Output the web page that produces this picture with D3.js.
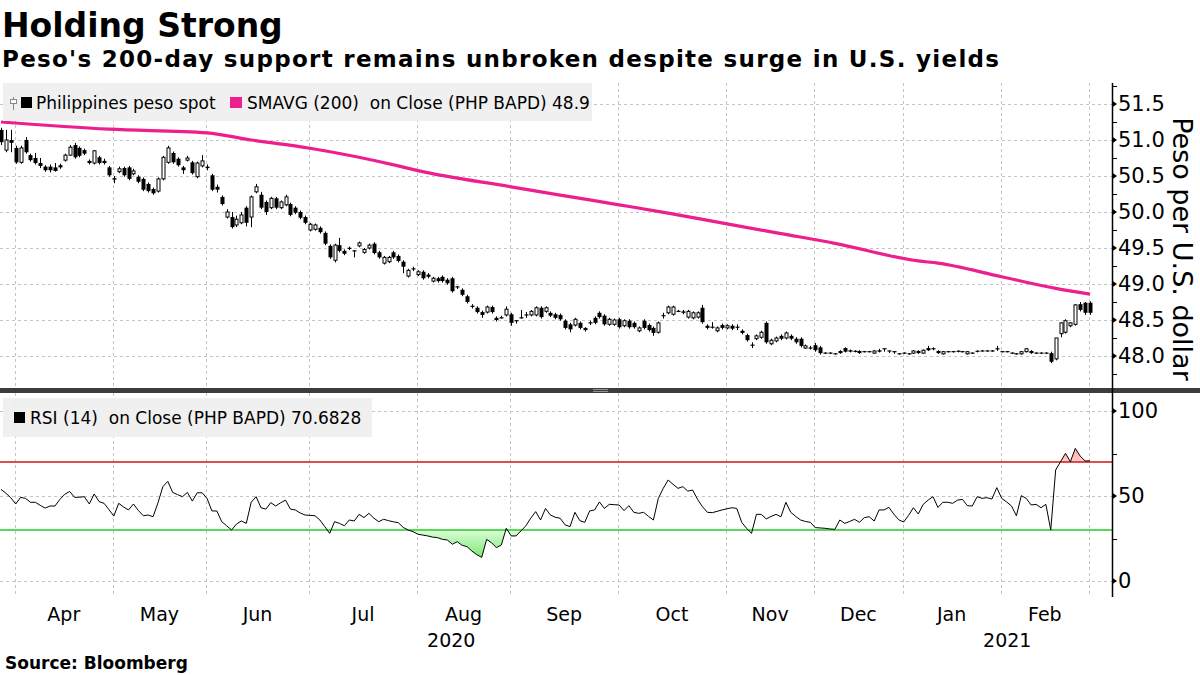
<!DOCTYPE html>
<html>
<head>
<meta charset="utf-8">
<script src="https://cdn.jsdelivr.net/npm/d3@7/dist/d3.min.js"></script>
<style>
  html, body { margin: 0; padding: 0; background: #fff; }
  svg { display: block; font-family: "DejaVu Sans", sans-serif; }
</style>
</head>
<body>
<svg id="chart" width="1200" height="675"></svg>
<script>
// ---------------- DATA ----------------
const openP = [51.14,50.86,51.00,50.89,50.69,51.00,50.79,50.75,50.68,50.63,50.63,50.62,50.65,50.72,50.79,50.93,50.89,50.86,50.71,50.68,
50.76,50.71,50.62,50.47,50.56,50.61,50.62,50.53,50.49,50.46,50.39,50.32,50.29,50.46,50.69,50.82,50.74,50.62,50.72,50.69,
50.49,50.64,50.63,50.51,50.35,50.21,49.93,49.93,49.82,49.85,50.06,49.93,50.28,50.24,50.14,50.06,50.19,50.06,50.10,50.11,
50.06,50.00,49.93,49.75,49.76,49.78,49.71,49.53,49.33,49.54,49.46,49.50,49.46,49.53,49.44,49.50,49.56,49.44,49.29,49.31,
49.44,49.39,49.31,49.11,49.21,49.13,49.17,49.13,49.04,49.08,49.10,49.06,49.08,48.96,48.92,48.83,48.69,48.67,48.61,48.61,
48.68,48.53,48.53,48.57,48.58,48.49,48.53,48.57,48.57,48.57,48.67,48.62,48.60,48.58,48.57,48.49,48.44,48.43,48.46,48.39,
48.46,48.53,48.60,48.56,48.44,48.44,48.51,48.42,48.49,48.46,48.35,48.49,48.43,48.39,48.33,48.56,48.60,48.58,48.62,48.62,
48.54,48.53,48.54,48.67,48.42,48.40,48.35,48.43,48.39,48.42,48.40,48.35,48.29,48.15,48.24,48.26,48.46,48.17,48.21,48.28,
48.25,48.28,48.24,48.24,48.11,48.11,48.15,48.12,48.04,48.04,48.03,48.07,48.11,48.08,48.07,48.07,48.06,48.06,48.04,48.08,
48.10,48.07,48.06,48.03,48.04,48.03,48.04,48.07,48.04,48.11,48.10,48.07,48.03,48.06,48.06,48.07,48.06,48.03,48.04,48.07,
48.07,48.07,48.07,48.10,48.06,48.06,48.04,48.03,48.03,48.06,48.07,48.04,48.04,48.04,48.04,47.96,48.31,48.33,48.42,48.44,
48.72,48.74,48.74];
const highP = [51.17,51.14,51.14,50.92,50.92,51.04,50.81,50.82,50.75,50.65,50.66,50.68,50.67,50.81,50.93,50.96,50.91,50.88,50.73,50.86,
50.78,50.74,50.64,50.50,50.63,50.63,50.64,50.60,50.51,50.48,50.41,50.34,50.48,50.78,50.92,50.84,50.76,50.64,50.78,50.71,
50.70,50.79,50.66,50.53,50.38,50.23,50.04,50.00,49.95,50.00,50.08,50.23,50.39,50.28,50.16,50.21,50.21,50.16,50.24,50.13,
50.08,50.02,49.95,49.85,49.84,49.80,49.73,49.55,49.56,49.64,49.48,49.52,49.47,49.59,49.50,49.56,49.58,49.46,49.39,49.39,
49.46,49.41,49.33,49.21,49.24,49.19,49.19,49.15,49.10,49.10,49.12,49.08,49.10,48.97,48.94,48.85,48.72,48.69,48.63,48.70,
48.70,48.55,48.56,48.69,48.60,48.50,48.64,48.61,48.64,48.69,48.69,48.69,48.62,48.60,48.59,48.51,48.46,48.53,48.48,48.40,
48.49,48.55,48.62,48.58,48.53,48.52,48.53,48.51,48.51,48.48,48.41,48.51,48.45,48.41,48.48,48.60,48.70,48.70,48.64,48.64,
48.64,48.62,48.62,48.71,48.44,48.47,48.41,48.45,48.44,48.44,48.44,48.37,48.31,48.19,48.30,48.35,48.48,48.24,48.27,48.30,
48.34,48.30,48.26,48.26,48.16,48.14,48.18,48.14,48.05,48.05,48.04,48.08,48.12,48.09,48.08,48.08,48.07,48.07,48.08,48.10,
48.10,48.07,48.06,48.04,48.05,48.04,48.08,48.08,48.09,48.14,48.12,48.08,48.07,48.07,48.07,48.08,48.07,48.07,48.05,48.08,
48.08,48.08,48.08,48.14,48.07,48.07,48.05,48.04,48.07,48.11,48.08,48.05,48.05,48.05,48.06,48.25,48.47,48.51,48.47,48.72,
48.75,48.75,48.76];
const lowP = [50.93,50.83,50.83,50.67,50.67,50.81,50.70,50.66,50.61,50.56,50.55,50.56,50.60,50.70,50.78,50.74,50.76,50.79,50.66,50.66,
50.66,50.66,50.49,50.40,50.54,50.49,50.44,50.51,50.40,50.29,50.27,50.24,50.27,50.44,50.67,50.67,50.63,50.53,50.70,50.52,
50.47,50.62,50.58,50.29,50.27,50.09,49.91,49.77,49.79,49.83,49.80,49.79,50.26,50.04,49.96,50.04,50.04,50.04,50.08,49.94,
49.97,49.90,49.83,49.73,49.74,49.70,49.54,49.35,49.30,49.44,49.40,49.47,49.37,49.51,49.42,49.48,49.41,49.35,49.27,49.29,
49.35,49.30,49.15,49.09,49.18,49.11,49.06,49.08,49.02,49.02,49.02,48.99,48.88,48.93,48.83,48.73,48.66,48.59,48.53,48.59,
48.59,48.48,48.52,48.55,48.42,48.45,48.52,48.53,48.55,48.55,48.52,48.60,48.54,48.51,48.49,48.37,48.33,48.41,48.37,48.34,
48.43,48.44,48.52,48.42,48.42,48.42,48.38,48.40,48.38,48.38,48.33,48.37,48.34,48.28,48.31,48.52,48.58,48.56,48.61,48.58,
48.52,48.51,48.52,48.45,48.37,48.38,48.33,48.37,48.37,48.36,48.36,48.30,48.20,48.11,48.22,48.24,48.17,48.15,48.19,48.22,
48.23,48.22,48.17,48.12,48.10,48.09,48.06,48.02,48.03,48.03,48.02,48.03,48.05,48.05,48.05,48.03,48.05,48.05,48.03,48.05,
48.06,48.04,48.03,48.02,48.03,48.02,48.03,48.03,48.03,48.07,48.08,48.03,48.02,48.05,48.05,48.05,48.05,48.02,48.03,48.05,
48.06,48.06,48.06,48.07,48.05,48.05,48.03,48.02,48.02,48.05,48.03,48.03,48.03,48.03,47.90,47.94,48.26,48.31,48.40,48.42,
48.62,48.57,48.57];
const closeP = [50.97,51.00,50.96,50.69,50.89,50.83,50.72,50.68,50.64,50.58,50.58,50.57,50.62,50.79,50.90,50.76,50.78,50.81,50.68,50.85,
50.68,50.68,50.51,50.45,50.60,50.51,50.46,50.57,50.42,50.31,50.29,50.26,50.46,50.76,50.89,50.69,50.65,50.58,50.75,50.54,
50.68,50.71,50.61,50.31,50.31,50.11,50.00,49.79,49.90,49.96,49.85,50.21,50.35,50.06,50.00,50.19,50.06,50.14,50.21,49.96,
49.99,49.92,49.85,49.83,49.82,49.72,49.56,49.37,49.54,49.46,49.42,49.49,49.46,49.57,49.48,49.54,49.43,49.37,49.37,49.37,
49.37,49.32,49.24,49.19,49.21,49.17,49.08,49.10,49.08,49.04,49.04,49.01,48.90,48.96,48.85,48.75,48.69,48.61,48.57,48.68,
48.61,48.50,48.53,48.65,48.46,48.49,48.53,48.57,48.62,48.67,48.54,48.67,48.56,48.53,48.51,48.39,48.37,48.51,48.39,48.36,
48.46,48.46,48.54,48.44,48.51,48.50,48.40,48.49,48.40,48.40,48.39,48.39,48.36,48.32,48.46,48.56,48.68,48.68,48.62,48.60,
48.62,48.60,48.60,48.47,48.39,48.40,48.39,48.39,48.42,48.38,48.40,48.32,48.22,48.15,48.28,48.33,48.19,48.22,48.25,48.24,
48.32,48.24,48.19,48.14,48.14,48.11,48.08,48.04,48.04,48.04,48.03,48.04,48.06,48.06,48.06,48.04,48.06,48.06,48.07,48.06,
48.10,48.07,48.06,48.03,48.04,48.03,48.07,48.04,48.08,48.08,48.10,48.04,48.06,48.06,48.06,48.06,48.06,48.06,48.04,48.06,
48.07,48.07,48.07,48.10,48.06,48.06,48.04,48.03,48.06,48.10,48.04,48.04,48.04,48.04,47.92,48.25,48.46,48.49,48.46,48.71,
48.64,48.60,48.60];

// 200-day simple moving average, read at vertices (trading-day index, value)
const smaIdx = [0, 22, 42, 51, 63, 81, 85, 104, 114, 126, 136, 148, 159, 170, 187, 191, 204, 215, 222];
const smaVal = [51.25, 51.15, 51.10, 51.00, 50.885, 50.64, 50.575, 50.35, 50.235, 50.10, 49.985, 49.835, 49.70, 49.565, 49.32, 49.29, 49.10, 48.94, 48.86];

// RSI (14), one value per trading day
const rsi = [53.9,51.6,49,45.3,49.2,48.6,46.3,46.3,44.5,42.9,44.1,44.1,48,51,52.7,49.2,49.3,49.6,45.3,51.2,
46.7,45.7,42,38.2,45.7,43.5,41.8,45.3,41.5,38.4,38.8,37.8,46,55.5,58.6,52.1,50.8,49.6,52.1,47.0,
51.9,51.9,48.6,41.2,41.2,34.9,32.5,30.0,33.5,35.3,33.9,46.3,49.6,43.1,42.3,46.1,44.1,46,47.6,42.3,
41.8,40,38.8,38.6,38.4,35.9,32,28.0,34.9,33.9,32.5,35.9,35.3,39.2,37.3,39.8,37,34.9,36.3,35.5,
34.8,34.3,31.5,30,29.0,27.5,27.0,26.5,25.8,25.5,24.5,24.1,21.6,23.1,21,20.2,17.6,15.5,13.9,24.5,
22.5,19.6,21.2,31.0,26.5,26.5,29.5,32.5,37,40.8,35.9,42.7,38.8,37.5,36.9,33,32.0,40.4,35.5,34.5,
41.2,41.8,46.5,42.7,45.1,44.9,44.7,41.4,44.3,40.4,39.8,40.4,38,35.9,48.6,54.5,59.4,56.9,54.5,55.5,
52.9,53.5,48,43.7,40.4,40.2,41,41.8,42.5,43.1,42.7,34.5,31,28.0,39.2,39.2,36.5,38,39.2,37.8,
46.3,40.4,38,35.9,35,34.5,31.4,31.2,31.0,30.6,30.4,35.9,33.9,35,36.3,34.5,37.3,37.8,35.3,41.8,
41.8,43.3,39.4,36,34.7,38.5,43.1,39.4,45.1,47.6,49.6,43.3,46.3,46.3,45.7,47.6,48.0,44.3,44.1,49.6,
48.6,49.0,48.2,54.9,48.6,46.5,44.1,38.4,50.2,48.6,44.7,45.1,43.1,45.1,30.0,65.3,70.2,75.1,70.2,78.0,
73.5,70.6,70.68];

// Month boundaries: trading-day index of first session of each month
const monthStartIdx = [3, 23, 42, 63, 85, 104, 126, 148, 166, 184, 204, 222];
const monthLabels = ["Apr","May","Jun","Jul","Aug","Sep","Oct","Nov","Dec","Jan","Feb"];
const yearLabels = ["2020", "2021"];
const yearStartMonth = [null, 9]; // index into monthStartIdx where the year starts

const priceTicks = [48.0, 48.5, 49.0, 49.5, 50.0, 50.5, 51.0, 51.5];
const priceMinor = [47.75, 48.25, 48.75, 49.25, 49.75, 50.25, 50.75, 51.25, 51.75];
const rsiTicks = [0, 50, 100];
const rsiMinor = [25, 75];
const rsiOverbought = 70, rsiOversold = 30;

const title = "Holding Strong";
const subtitle = "Peso's 200-day support remains unbroken despite surge in U.S. yields";
const legend1a = "Philippines peso spot";
const legend1b = "SMAVG (200)  on Close (PHP BAPD) 48.9";
const legend2 = "RSI (14)  on Close (PHP BAPD) 70.6828";
const yTitle = "Peso per U.S. dollar";
const source = "Source: Bloomberg";

// ---------------- LAYOUT ----------------
const svg = d3.select("#chart");
const plotL = 0, plotR = 1112;
const topT = 83, topB = 388, botT = 393, botB = 597;
const FONT = "'DejaVu Sans', sans-serif";

const x = d3.scaleLinear().domain([0, 222]).range([1, 1090]);
const yP = d3.scaleLinear().domain([48, 51.5]).range([356, 104]);
const yR = d3.scaleLinear().domain([0, 100]).range([581, 411]);

const candles = openP.map((o, i) => ({ i, o, h: highP[i], l: lowP[i], c: closeP[i] }));

const defs = svg.append("defs");
defs.append("clipPath").attr("id", "clipTop").append("rect")
  .attr("x", plotL).attr("y", topT).attr("width", plotR - plotL).attr("height", topB - topT);
defs.append("clipPath").attr("id", "clipBot").append("rect")
  .attr("x", plotL).attr("y", botT).attr("width", plotR - plotL).attr("height", botB - botT);
defs.append("clipPath").attr("id", "clipBelow30").append("rect")
  .attr("x", plotL).attr("y", yR(rsiOversold)).attr("width", plotR - plotL).attr("height", botB - yR(rsiOversold));
defs.append("clipPath").attr("id", "clipAbove70").append("rect")
  .attr("x", plotL).attr("y", botT).attr("width", plotR - plotL).attr("height", yR(rsiOverbought) - botT);
const gG = defs.append("linearGradient").attr("id", "gGreen")
  .attr("gradientUnits", "userSpaceOnUse").attr("x1", 0).attr("x2", 0).attr("y1", yR(30)).attr("y2", yR(12));
gG.append("stop").attr("offset", 0).attr("stop-color", "#dcfcd6");
gG.append("stop").attr("offset", 1).attr("stop-color", "#6fe86a");
const gR = defs.append("linearGradient").attr("id", "gRed")
  .attr("gradientUnits", "userSpaceOnUse").attr("x1", 0).attr("x2", 0).attr("y1", yR(70)).attr("y2", yR(80));
gR.append("stop").attr("offset", 0).attr("stop-color", "#ffd0d0");
gR.append("stop").attr("offset", 1).attr("stop-color", "#ff9c9c");

// ---------------- TITLES ----------------
svg.append("text").attr("x", 2).attr("y", 37).text(title)
  .attr("font-family", FONT).attr("font-weight", "bold").attr("font-size", 33).attr("fill", "#000");
svg.append("text").attr("x", 2).attr("y", 67).text(subtitle)
  .attr("font-family", FONT).attr("font-weight", "bold").attr("font-size", 23).attr("fill", "#000")
  .attr("textLength", 997).attr("lengthAdjust", "spacing");

// ---------------- GRID ----------------
const grid = svg.append("g").attr("stroke", "#c4c4c4").attr("stroke-width", 1).attr("stroke-dasharray", "3,3").attr("fill", "none");
priceTicks.forEach(t => {
  const yy = Math.round(yP(t)) + 0.5;
  grid.append("line").attr("x1", plotL).attr("x2", plotR).attr("y1", yy).attr("y2", yy);
});
rsiTicks.forEach(t => {
  const yy = Math.round(yR(t)) + 0.5;
  grid.append("line").attr("x1", plotL).attr("x2", plotR).attr("y1", yy).attr("y2", yy);
});
monthStartIdx.forEach(m => {
  const xx = Math.round(x(m) - 1) + 0.5;
  grid.append("line").attr("x1", xx).attr("x2", xx).attr("y1", topT).attr("y2", topB);
  grid.append("line").attr("x1", xx).attr("x2", xx).attr("y1", botT).attr("y2", botB);
});

// ---------------- TOP PANEL ----------------
const gTop = svg.append("g").attr("clip-path", "url(#clipTop)");

// SMA line
gTop.append("path")
  .datum(smaIdx.map((d, k) => [d, smaVal[k]]))
  .attr("d", d3.line().x(d => x(d[0])).y(d => yP(d[1])).curve(d3.curveMonotoneX))
  .attr("fill", "none").attr("stroke", "#ec1f8d").attr("stroke-width", 3.2);

// candles
const cg = gTop.append("g");
candles.forEach(d => {
  const cx = Math.round(x(d.i)) + 0.5;
  const yTop = yP(Math.max(d.o, d.c)), yBot = yP(Math.min(d.o, d.c));
  cg.append("line").attr("x1", cx).attr("x2", cx).attr("y1", yP(d.h)).attr("y2", yP(d.l))
    .attr("stroke", "#000").attr("stroke-width", 1);
  const hgt = yBot - yTop;
  if (hgt < 1.2) {
    cg.append("line").attr("x1", cx - 2).attr("x2", cx + 2).attr("y1", (yTop + yBot) / 2).attr("y2", (yTop + yBot) / 2)
      .attr("stroke", "#000").attr("stroke-width", 1.2);
  } else if (d.c > d.o) {
    cg.append("rect").attr("x", cx - 1.5).attr("y", yTop).attr("width", 3).attr("height", hgt)
      .attr("fill", "#fff").attr("stroke", "#000").attr("stroke-width", 1);
  } else {
    cg.append("rect").attr("x", cx - 2).attr("y", yTop).attr("width", 4).attr("height", hgt)
      .attr("fill", "#000");
  }
});

// legend 1
const lg1 = svg.append("g");
lg1.append("rect").attr("x", 3).attr("y", 83).attr("width", 589).attr("height", 38).attr("fill", "#efefef").attr("opacity", 0.93);
lg1.append("line").attr("x1", 13.5).attr("x2", 13.5).attr("y1", 97).attr("y2", 110).attr("stroke", "#888");
lg1.append("rect").attr("x", 10.5).attr("y", 99.5).attr("width", 6).attr("height", 4).attr("fill", "#fff").attr("stroke", "#888");
lg1.append("rect").attr("x", 21).attr("y", 97).attr("width", 11).attr("height", 11).attr("fill", "#000");
lg1.append("text").attr("x", 36).attr("y", 108.5).text(legend1a)
  .attr("font-family", FONT).attr("font-size", 17).attr("fill", "#000");
lg1.append("rect").attr("x", 230).attr("y", 97).attr("width", 12).attr("height", 11).attr("fill", "#ec1f8d");
lg1.append("text").attr("x", 247).attr("y", 108.5).text(legend1b).style("white-space", "pre")
  .attr("font-family", FONT).attr("font-size", 17).attr("fill", "#000");

// ---------------- BOTTOM PANEL ----------------
const gBot = svg.append("g").attr("clip-path", "url(#clipBot)");
const rsiPts = rsi.map((v, i) => [i, v]);

gBot.append("g").attr("clip-path", "url(#clipBelow30)").append("path")
  .datum(rsiPts)
  .attr("d", d3.area().x(d => x(d[0])).y0(yR(rsiOversold)).y1(d => yR(d[1])))
  .attr("fill", "url(#gGreen)");
gBot.append("g").attr("clip-path", "url(#clipAbove70)").append("path")
  .datum(rsiPts)
  .attr("d", d3.area().x(d => x(d[0])).y0(yR(rsiOverbought)).y1(d => yR(d[1])))
  .attr("fill", "url(#gRed)");

gBot.append("line").attr("x1", plotL).attr("x2", plotR).attr("y1", yR(rsiOverbought)).attr("y2", yR(rsiOverbought))
  .attr("stroke", "#d01515").attr("stroke-width", 1.3);
gBot.append("line").attr("x1", plotL).attr("x2", plotR).attr("y1", yR(rsiOversold)).attr("y2", yR(rsiOversold))
  .attr("stroke", "#22cc22").attr("stroke-width", 1.3);

gBot.append("path").datum(rsiPts)
  .attr("d", d3.line().x(d => x(d[0])).y(d => yR(d[1])))
  .attr("fill", "none").attr("stroke", "#000").attr("stroke-width", 1);

const lg2 = svg.append("g");
lg2.append("rect").attr("x", 3).attr("y", 398).attr("width", 369).attr("height", 39).attr("fill", "#efefef").attr("opacity", 0.93);
lg2.append("rect").attr("x", 14).attr("y", 412).attr("width", 11).attr("height", 11).attr("fill", "#000");
lg2.append("text").attr("x", 30).attr("y", 423.5).text(legend2).style("white-space", "pre")
  .attr("font-family", FONT).attr("font-size", 17).attr("fill", "#000");

// ---------------- SEPARATOR ----------------
svg.append("rect").attr("x", 0).attr("y", 388).attr("width", 1200).attr("height", 5).attr("fill", "#3d3d3d");
[389.5, 391.5].forEach(yy => svg.append("line").attr("x1", 593).attr("x2", 608).attr("y1", yy).attr("y2", yy)
  .attr("stroke", "#a8a8a8").attr("stroke-width", 0.8));

// ---------------- RIGHT AXES ----------------
const axisTop = d3.axisRight(yP).tickValues(priceTicks).tickFormat(d3.format(".1f")).tickSize(0).tickPadding(6);
const gAT = svg.append("g").attr("transform", `translate(${plotR},0)`).call(axisTop);
gAT.select(".domain").remove();
gAT.selectAll("text").attr("font-family", FONT).attr("font-size", 21).attr("fill", "#000");

const axisBot = d3.axisRight(yR).tickValues(rsiTicks).tickFormat(d3.format("d")).tickSize(0).tickPadding(6);
const gAB = svg.append("g").attr("transform", `translate(${plotR},0)`).call(axisBot);
gAB.select(".domain").remove();
gAB.selectAll("text").attr("font-family", FONT).attr("font-size", 21).attr("fill", "#000");

svg.append("line").attr("x1", plotR + 0.5).attr("x2", plotR + 0.5).attr("y1", topT).attr("y2", botB)
  .attr("stroke", "#000").attr("stroke-width", 1.5);

const tri = (yy) => `M${plotR},${yy - 3.5}L${plotR + 5},${yy}L${plotR},${yy + 3.5}Z`;
priceTicks.forEach(t => svg.append("path").attr("d", tri(yP(t))).attr("fill", "#000"));
rsiTicks.forEach(t => svg.append("path").attr("d", tri(yR(t))).attr("fill", "#000"));
priceMinor.forEach(t => svg.append("line").attr("x1", plotR).attr("x2", plotR + 5)
  .attr("y1", Math.round(yP(t)) + 0.5).attr("y2", Math.round(yP(t)) + 0.5).attr("stroke", "#000"));
rsiMinor.forEach(t => svg.append("line").attr("x1", plotR).attr("x2", plotR + 5)
  .attr("y1", Math.round(yR(t)) + 0.5).attr("y2", Math.round(yR(t)) + 0.5).attr("stroke", "#000"));

svg.append("text")
  .attr("transform", `translate(1173, 249) rotate(90)`)
  .attr("text-anchor", "middle").text(yTitle)
  .attr("font-family", FONT).attr("font-size", 27).attr("fill", "#000");

// ---------------- X LABELS ----------------
const xb = svg.append("g");
monthLabels.forEach((m, k) => {
  const mid = (x(monthStartIdx[k]) + x(monthStartIdx[k + 1])) / 2 - 1;
  xb.append("text").attr("x", mid).attr("y", 621).attr("text-anchor", "middle").text(m)
    .attr("font-family", FONT).attr("font-size", 19).attr("fill", "#000");
});
const jan = x(monthStartIdx[yearStartMonth[1]]) - 1;
[[plotL, jan], [jan, plotR]].forEach((span, k) => {
  xb.append("text").attr("x", (span[0] + span[1]) / 2).attr("y", 647).attr("text-anchor", "middle").text(yearLabels[k])
    .attr("font-family", FONT).attr("font-size", 19).attr("fill", "#000");
});

svg.append("text").attr("x", 5).attr("y", 669).text(source)
  .attr("font-family", FONT).attr("font-weight", "bold").attr("font-size", 17).attr("fill", "#000");
</script>
</body>
</html>
